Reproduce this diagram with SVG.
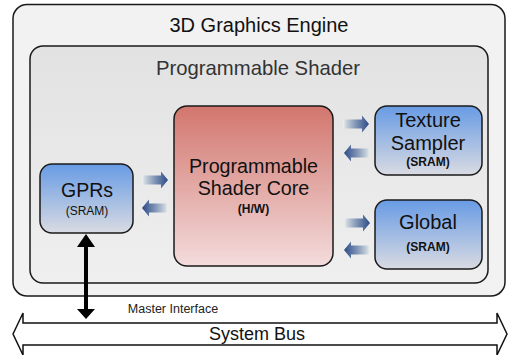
<svg xmlns="http://www.w3.org/2000/svg" width="510" height="355" viewBox="0 0 510 355">
<defs>
<linearGradient id="gInner" x1="0" y1="0" x2="0" y2="1"><stop offset="0" stop-color="#e2e2e2"/><stop offset="1" stop-color="#efefef"/></linearGradient>
<linearGradient id="gCore" x1="0" y1="0" x2="0" y2="1"><stop offset="0" stop-color="#d2766e"/><stop offset="1" stop-color="#f3dcdc"/></linearGradient>
<linearGradient id="gBlue" x1="0" y1="0" x2="0" y2="1"><stop offset="0" stop-color="#689be4"/><stop offset="1" stop-color="#d9dbe2"/></linearGradient>
<linearGradient id="gArr" x1="0" y1="0" x2="1" y2="0"><stop offset="0" stop-color="#eef2ee"/><stop offset="0.12" stop-color="#c9d3dc"/><stop offset="0.5" stop-color="#7f93b5"/><stop offset="1" stop-color="#2c4b86"/></linearGradient>
<path id="arr" d="M-13,-4.5 H6 V-8.5 L13,0 L6,8.5 V4.5 H-13 Z" fill="url(#gArr)"/>
</defs>
<style>
.box{stroke:#1a1a1a;stroke-width:1.5}
.t{font-family:"Liberation Sans",Arial,sans-serif;fill:#111;text-anchor:middle}
.b{font-weight:bold}
</style>
<g id="engine">
<rect class="box" x="13" y="4.5" width="492" height="291.5" rx="14" fill="#f2f2f2"/>
<text class="t" x="259" y="32" font-size="20">3D Graphics Engine</text>
</g>
<g id="shader">
<rect class="box" x="30" y="46" width="458" height="237" rx="13" fill="url(#gInner)"/>
<text class="t" x="258" y="75" font-size="20.3" style="fill:#333">Programmable Shader</text>
</g>
<g id="core">
<rect class="box" x="174" y="106" width="159" height="160" rx="13" fill="url(#gCore)"/>
<text class="t" x="253.5" y="173" font-size="19.7">Programmable</text>
<text class="t" x="253.5" y="195" font-size="19.7">Shader Core</text>
<text class="t b" x="253.5" y="213" font-size="12">(H/W)</text>
</g>
<g id="gprs">
<rect class="box" x="40" y="164" width="93" height="69" rx="12" fill="url(#gBlue)"/>
<text class="t" x="87" y="197" font-size="19.5">GPRs</text>
<text class="t" x="87" y="215" font-size="12">(SRAM)</text>
</g>
<g id="texture">
<rect class="box" x="375" y="106" width="107" height="69" rx="12" fill="url(#gBlue)"/>
<text class="t" x="428" y="127" font-size="20">Texture</text>
<text class="t" x="428" y="150" font-size="20">Sampler</text>
<text class="t b" x="428" y="166" font-size="12">(SRAM)</text>
</g>
<g id="global">
<rect class="box" x="375" y="200" width="107" height="69" rx="12" fill="url(#gBlue)"/>
<text class="t" x="428" y="229" font-size="20">Global</text>
<text class="t b" x="428" y="251" font-size="12">(SRAM)</text>
</g>
<g id="bus">
<path d="M13,334 L23,313 V323 H497 V313 L507,334 L497,355 V345 H23 V355 Z" fill="#fff" stroke="#111" stroke-width="1.5" stroke-linejoin="miter"/>
<text class="t" x="257" y="340" font-size="18">System Bus</text>
</g>
<g id="connectors">
<use href="#arr" transform="translate(155,180)"/>
<use href="#arr" transform="translate(155,208) scale(-1,1)"/>
<use href="#arr" transform="translate(356,124)"/>
<use href="#arr" transform="translate(357,153) scale(-1,1)"/>
<use href="#arr" transform="translate(357,223)"/>
<use href="#arr" transform="translate(357,250) scale(-1,1)"/>
<line x1="86" y1="245" x2="86" y2="310" stroke="#000" stroke-width="4"/>
<path d="M77,247 L86,234 L95,247 Z M77,309 L95,309 L86,319 Z" fill="#000"/>
<text class="t" x="173" y="313" font-size="12.5" style="fill:#222">Master Interface</text>
</g>
</svg>
